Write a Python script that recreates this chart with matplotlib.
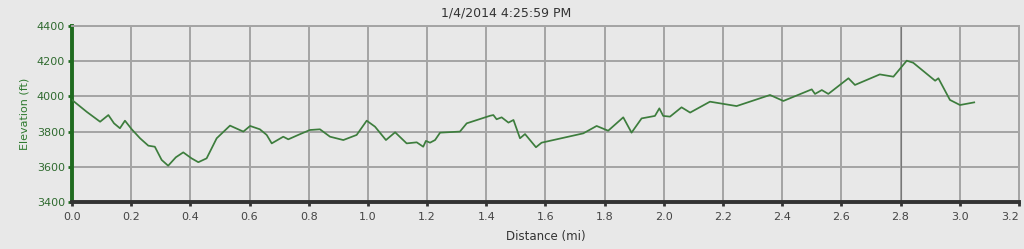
import matplotlib
matplotlib.use("Agg")
import matplotlib.pyplot as plt

title = "1/4/2014 4:25:59 PM"
distance_mi = [0.000, 0.05, 0.095, 0.123, 0.142, 0.162, 0.179, 0.202, 0.23, 0.258,
               0.28, 0.303, 0.325, 0.351, 0.376, 0.404, 0.427, 0.455, 0.489, 0.534,
               0.579, 0.602, 0.635, 0.658, 0.675, 0.714, 0.731, 0.77, 0.804, 0.838,
               0.872, 0.917, 0.962, 0.996, 1.024, 1.061, 1.092, 1.131, 1.165, 1.187,
               1.196, 1.21, 1.227, 1.244, 1.311, 1.334, 1.413, 1.424, 1.435, 1.452,
               1.475, 1.492, 1.514, 1.531, 1.568, 1.587, 1.728, 1.773, 1.812, 1.863,
               1.891, 1.925, 1.97, 1.985, 1.998, 2.021, 2.06, 2.089, 2.156, 2.246,
               2.359, 2.404, 2.5, 2.511, 2.534, 2.556, 2.624, 2.646, 2.73, 2.776,
               2.821, 2.843, 2.917, 2.928, 2.967, 3.001, 3.049]
elevation_ft = [3980, 3912, 3856, 3894, 3847, 3819, 3862, 3813, 3762, 3720,
                3714, 3639, 3606, 3654, 3682, 3648, 3626, 3648, 3762, 3834,
                3800, 3832, 3813, 3781, 3733, 3771, 3756, 3785, 3809, 3813,
                3771, 3752, 3781, 3862, 3828, 3752, 3796, 3733, 3739, 3714,
                3747, 3737, 3752, 3794, 3800, 3847, 3890, 3894, 3870, 3881,
                3851, 3866, 3762, 3786, 3711, 3737, 3790, 3832, 3805, 3881,
                3794, 3875, 3889, 3932, 3889, 3885, 3938, 3908, 3970, 3945,
                4008, 3974, 4040, 4014, 4036, 4014, 4103, 4065, 4125, 4112,
                4203, 4191, 4089, 4103, 3980, 3951, 3966]
x_ticks = [0.0, 0.2, 0.4, 0.6, 0.8, 1.0, 1.2, 1.4, 1.6, 1.8, 2.0, 2.2, 2.4, 2.6, 2.8, 3.0, 3.2]
y_ticks = [3400, 3600, 3800, 4000, 4200, 4400]
cursor_x = 2.8

bg = "#e8e8e8"
fig = plt.figure(figsize=(10.24, 2.49), dpi=100, facecolor=bg)
ax = fig.add_axes([0.0703, 0.1888, 0.9247, 0.7068])
ax.set_facecolor(bg)

ax.plot(distance_mi, elevation_ft, color="#3d7d3d", lw=1.25, zorder=3)

ax.set_xlim(0, 3.2)
ax.set_ylim(3400, 4400)
ax.set_xticks(x_ticks)
ax.set_yticks(y_ticks)
ax.set_xticklabels([f"{t:.1f}" for t in x_ticks])
ax.get_xticklabels()[-1].set_horizontalalignment("right")
ax.grid(True, color="#a4a4a4", lw=1.4, zorder=1)
ax.axvline(cursor_x, color="#777777", lw=0.8, zorder=2)

ax.tick_params(axis="x", colors="#333333", labelsize=8, length=3, width=2, pad=4, labelcolor="#444444")
ax.tick_params(axis="y", colors="#1f6b1f", labelsize=8, length=3, width=2, pad=2, labelcolor="#2f6a2f")

for side in ("top", "right"):
    ax.spines[side].set_color("#a4a4a4")
    ax.spines[side].set_linewidth(1.4)
ax.spines["left"].set_color("#1f6b1f")
ax.spines["left"].set_linewidth(2.8)
ax.spines["bottom"].set_color("#333333")
ax.spines["bottom"].set_linewidth(2.8)

ax.set_xlabel("Distance (mi)", fontsize=8.5, color="#333333", labelpad=6)
ax.set_ylabel("Elevation (ft)", fontsize=8, color="#2f7a2f", labelpad=5)
fig.text(0.494, 0.949, title, fontsize=9, color="#333333", ha="center", va="center")

fig.savefig("out.png", dpi=100, facecolor=bg)
